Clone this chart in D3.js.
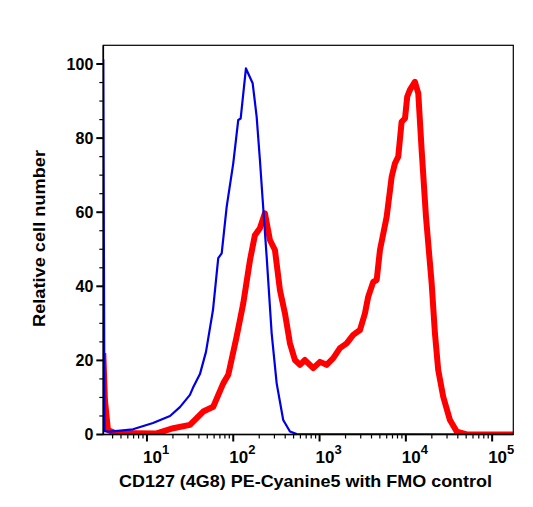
<!DOCTYPE html>
<html>
<head>
<meta charset="utf-8">
<script src="https://cdn.jsdelivr.net/npm/d3@7"></script>
<style>
  body { margin: 0; background: #fff; }
  text { font-family: "Liberation Sans", Arial, sans-serif; font-weight: bold; fill: #000; }
</style>
</head>
<body>
<div id="chart"></div>
<script>

// FMO control (blue), log10 of intensity and % of max
const fmoLog = [0.494, 0.508, 0.571, 0.838, 1.070, 1.267, 1.382, 1.498, 1.533, 1.614, 1.684, 1.765, 1.826, 1.866, 1.924, 2.000, 2.058, 2.086, 2.147, 2.225, 2.271, 2.309, 2.341, 2.387, 2.445, 2.503, 2.579, 2.657, 2.735, 5.244];
const fmoPct = [101.3, 0.9, 0.8, 1.4, 3.1, 5.0, 7.4, 10.7, 12.6, 16.3, 22.3, 33.6, 47.6, 48.9, 61.5, 73.2, 84.9, 85.3, 98.8, 94.8, 85.8, 74.1, 63.3, 48.0, 27.3, 13.8, 3.9, 0.8, 0.1, 0];

// CD127 stained (red)
const cdLog = [0.494, 0.513, 0.548, 0.629, 1.112, 1.305, 1.498, 1.652, 1.768, 1.884, 1.942, 2.039, 2.116, 2.194, 2.251, 2.309, 2.367, 2.425, 2.483, 2.541, 2.599, 2.657, 2.715, 2.773, 2.831, 2.927, 3.005, 3.082, 3.159, 3.236, 3.314, 3.390, 3.468, 3.526, 3.564, 3.622, 3.662, 3.700, 3.778, 3.836, 3.874, 3.912, 3.951, 3.990, 4.016, 4.047, 4.105, 4.144, 4.183, 4.233, 4.299, 4.337, 4.375, 4.433, 4.511, 4.589, 4.705, 5.244];
const cdPct = [22.0, 9.3, 1.2, 0.4, 0.3, 1.7, 2.6, 6.2, 7.5, 13.8, 16.1, 26.4, 35.4, 47.1, 53.8, 55.7, 59.7, 52.5, 49.8, 39.0, 32.7, 24.6, 20.1, 18.8, 20.1, 17.9, 19.6, 18.8, 20.6, 23.3, 24.6, 26.9, 28.2, 32.7, 37.2, 41.2, 41.7, 49.8, 58.8, 69.6, 73.2, 75.0, 84.4, 85.3, 91.2, 93.0, 95.2, 92.1, 76.8, 58.8, 40.8, 27.3, 17.4, 10.2, 3.9, 0.8, 0, 0];

const yTicks = [0, 20, 40, 60, 80, 100];
const xDecades = [1, 2, 3, 4, 5];

const width = 533, height = 507;
const margin = {top: 45.3, right: 19.7, bottom: 72.5, left: 103.3};

const svg = d3.select("#chart")
  .append("svg")
  .attr("width", width)
  .attr("height", height);

// scales
const xScale = d3.scaleLog()
  .domain([3.12, 175800])
  .range([margin.left, width - margin.right]);

const yScale = d3.scaleLinear()
  .domain([0, 105.05])
  .range([height - margin.bottom, margin.top]);

svg.append("clipPath").attr("id", "plot-clip")
  .append("rect")
  .attr("x", margin.left)
  .attr("y", margin.top)
  .attr("width", width - margin.left - margin.right)
  .attr("height", height - margin.top - margin.bottom);

const line = d3.line()
  .x(d => xScale(Math.pow(10, d[0])))
  .y(d => yScale(d[1]));

const plot = svg.append("g").attr("clip-path", "url(#plot-clip)");

plot.append("path")
  .datum(d3.zip(cdLog, cdPct))
  .attr("d", line)
  .attr("fill", "none")
  .attr("stroke", "#ff0000")
  .attr("stroke-width", 6)
  .attr("stroke-linejoin", "round");

plot.append("path")
  .datum(d3.zip(fmoLog, fmoPct))
  .attr("d", line)
  .attr("fill", "none")
  .attr("stroke", "#0000e6")
  .attr("stroke-width", 2.2)
  .attr("stroke-linejoin", "round");

// frame
svg.append("rect")
  .attr("x", margin.left)
  .attr("y", margin.top)
  .attr("width", width - margin.left - margin.right)
  .attr("height", height - margin.top - margin.bottom)
  .attr("fill", "none")
  .attr("stroke", "#000")
  .attr("stroke-width", 1.2);

// y axis
const yAxis = svg.append("g").attr("transform", `translate(${margin.left},0)`);
yAxis.append("line")
  .attr("y1", margin.top).attr("y2", height - margin.bottom)
  .attr("stroke", "#000").attr("stroke-width", 1.6);

yAxis.selectAll(".ymin")
  .data(d3.range(0, 101, 5))
  .enter().append("line")
    .attr("x1", d => d % 20 === 0 ? -7 : -4)
    .attr("x2", 0)
    .attr("y1", d => yScale(d))
    .attr("y2", d => yScale(d))
    .attr("stroke", "#000")
    .attr("stroke-width", d => d % 20 === 0 ? 2 : 1.2);

yAxis.selectAll(".ylab")
  .data(yTicks)
  .enter().append("text")
    .attr("x", -10)
    .attr("y", d => yScale(d))
    .attr("dy", "0.36em")
    .attr("text-anchor", "end")
    .attr("font-size", "16px")
    .text(d => d);

// x axis
const xAxis = svg.append("g").attr("transform", `translate(0,${height - margin.bottom})`);
xAxis.append("line")
  .attr("x1", margin.left).attr("x2", width - margin.right)
  .attr("stroke", "#000").attr("stroke-width", 1.6);

const minorX = [];
for (let e = 0; e <= 5; e++) {
  for (let m = 1; m <= 9; m++) {
    const v = m * Math.pow(10, e);
    if (v >= xScale.domain()[0] && v <= xScale.domain()[1]) minorX.push({v: v, major: m === 1});
  }
}

xAxis.selectAll(".xt")
  .data(minorX)
  .enter().append("line")
    .attr("x1", d => xScale(d.v))
    .attr("x2", d => xScale(d.v))
    .attr("y1", 0)
    .attr("y2", d => d.major ? 7 : 4)
    .attr("stroke", "#000")
    .attr("stroke-width", d => d.major ? 2 : 1.2);

const xlab = xAxis.selectAll(".xlab")
  .data(xDecades)
  .enter().append("text")
    .attr("x", d => xScale(Math.pow(10, d)) - 4)
    .attr("y", 28.5)
    .attr("font-size", "17px");
xlab.append("tspan").text("10");
xlab.append("tspan")
  .attr("dy", -9)
  .attr("font-size", "13px")
  .text(d => d);

// axis titles (reference lettering is a bit wider than Liberation Sans)
svg.append("text")
  .attr("x", 305.5)
  .attr("y", 487)
  .attr("text-anchor", "middle")
  .attr("font-size", "16.5px")
  .attr("textLength", 373)
  .attr("lengthAdjust", "spacingAndGlyphs")
  .text("CD127 (4G8) PE-Cyanine5 with FMO control");

svg.append("text")
  .attr("transform", `translate(45,238.5) rotate(-90)`)
  .attr("text-anchor", "middle")
  .attr("font-size", "16.5px")
  .attr("textLength", 177)
  .attr("lengthAdjust", "spacingAndGlyphs")
  .text("Relative cell number");

</script>
</body>
</html>
